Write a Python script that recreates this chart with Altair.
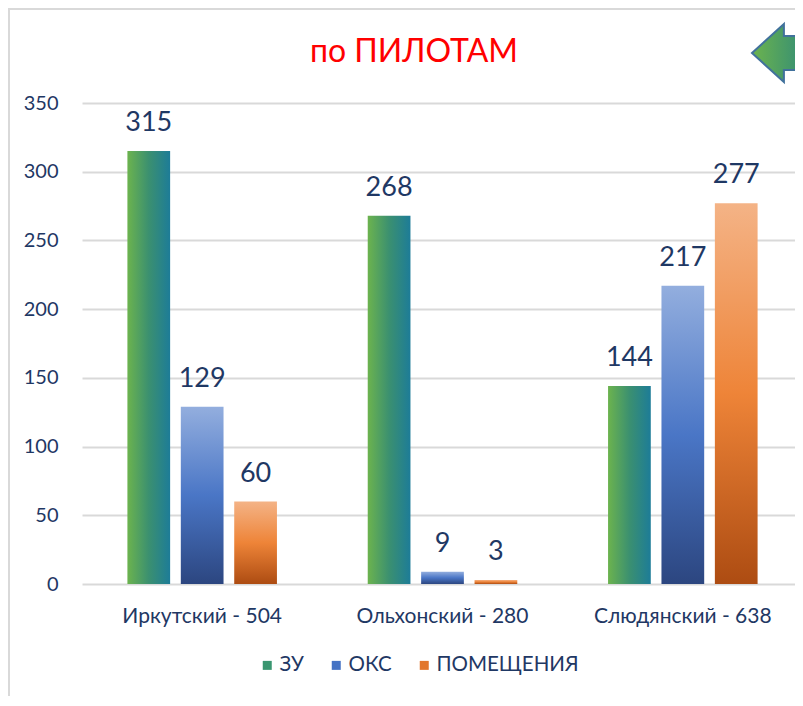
import altair as alt
import pandas as pd

# ---- data ----
regions = ["Иркутский - 504", "Ольхонский - 280", "Слюдянский - 638"]
series = ["ЗУ", "ОКС", "ПОМЕЩЕНИЯ"]
zu = [315, 268, 144]
oks = [129, 9, 217]
pom = [60, 3, 277]
y_ticks = [0, 50, 100, 150, 200, 250, 300, 350]
title_text = "по ПИЛОТАМ"

rows = []
for s, vals in zip(series, [zu, oks, pom]):
    for r, v in zip(regions, vals):
        rows.append({"region": r, "series": s, "value": v})
df = pd.DataFrame(rows)

NAVY = "#1f3864"
FONT = "Lato"

grads = {
    "ЗУ": {"gradient": "linear", "x1": 0, "y1": 0, "x2": 1, "y2": 0,
           "stops": [{"offset": 0, "color": "#6cb34e"},
                     {"offset": 0.5, "color": "#3b9070"},
                     {"offset": 1, "color": "#1d7c98"}]},
    "ОКС": {"gradient": "linear", "x1": 0, "y1": 0, "x2": 0, "y2": 1,
            "stops": [{"offset": 0, "color": "#93aede"},
                      {"offset": 0.5, "color": "#4a76c6"},
                      {"offset": 1, "color": "#2c4680"}]},
    "ПОМЕЩЕНИЯ": {"gradient": "linear", "x1": 0, "y1": 0, "x2": 0, "y2": 1,
                  "stops": [{"offset": 0, "color": "#f4b386"},
                            {"offset": 0.5, "color": "#ee8438"},
                            {"offset": 1, "color": "#ad4c12"}]},
}
legend_colors = ["#3a9670", "#4472c4", "#e2762c"]

x = alt.X("region:N", sort=regions,
          scale=alt.Scale(domain=regions, range=[0, 721],
                          paddingInner=0.3333, paddingOuter=0.1667),
          axis=alt.Axis(title=None, labelAngle=0, domain=False, ticks=False,
                        labelPadding=21, labelFontSize=21, labelColor=NAVY,
                        labelFont=FONT, grid=False))
xo = alt.XOffset("series:N", sort=series,
                 scale=alt.Scale(domain=series, paddingInner=0.2, paddingOuter=0.1))
y = alt.Y("value:Q", scale=alt.Scale(domain=[0, 350], nice=False),
          axis=alt.Axis(title=None, values=y_ticks, domain=False, ticks=False,
                        labelPadding=24, gridColor="#d9d9d9", gridWidth=2,
                        labelFontSize=20, labelColor=NAVY, labelFont=FONT))

base = alt.Chart(df)

bars = [
    base.transform_filter(alt.datum.series == s)
    .mark_bar(fill=grads[s])
    .encode(x=x, xOffset=xo, y=y)
    for s in series
]

labels = base.mark_text(font=FONT, fontSize=27, color=NAVY,
                        baseline="alphabetic", dy=-20).encode(
    x=x, xOffset=xo, y=y, text="value:Q")

legend_layer = base.transform_filter("datum.value < 0").mark_square(opacity=1).encode(
    color=alt.Color("series:N", sort=series,
                    scale=alt.Scale(domain=series, range=legend_colors),
                    legend=alt.Legend(orient="none", legendX=175, legendY=552,
                                      direction="horizontal", title=None,
                                      symbolType="square", symbolSize=81,
                                      labelFontSize=20.5, labelColor=NAVY,
                                      labelFont=FONT, columnPadding=22,
                                      labelOffset=2, symbolStrokeWidth=0))
)

one = alt.Chart(pd.DataFrame({"t": [title_text]}))

frame = one.mark_rect(fillOpacity=0, stroke="#d9d9d9", strokeWidth=2).encode(
    x=alt.value(-73), x2=alt.value(760), y=alt.value(-94), y2=alt.value(640))

title = one.mark_text(font=FONT, fontSize=32, color="#ff0000",
                      baseline="alphabetic", align="center").encode(
    x=alt.value(332), y=alt.value(-41), text="t:N")

arrow_path = "M -1 0 L 0.1 -1 L 0.1 -0.59 L 1 -0.59 L 1 0.59 L 0.1 0.59 L 0.1 1 Z"
arrow = one.mark_point(
    shape=arrow_path, size=3364, filled=True, opacity=1,
    fill={"gradient": "linear", "x1": 0, "y1": 0, "x2": 1, "y2": 0,
          "stops": [{"offset": 0, "color": "#6cb34e"},
                    {"offset": 1, "color": "#2f8a78"}]},
    stroke="#41719c", strokeWidth=2).encode(
    x=alt.value(699), y=alt.value(-50))

chart = alt.layer(frame, *bars, labels, legend_layer, title, arrow).properties(
    width=713, height=481,
    padding={"left": 74, "top": 95, "right": 0, "bottom": 112},
    autosize="none",
    background="white",
).configure_view(stroke=None)

chart.save("out.html", embed_options={"renderer": "svg", "actions": False})
